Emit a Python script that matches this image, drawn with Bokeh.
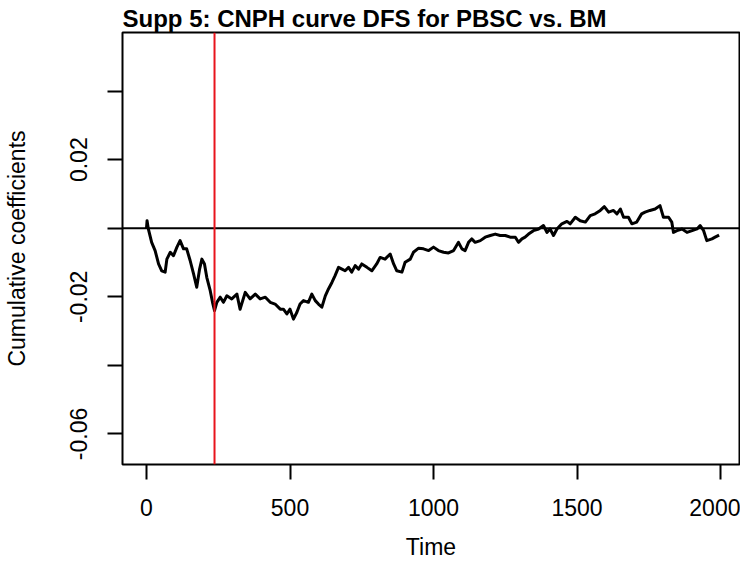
from bokeh.plotting import figure
from bokeh.models import Span, FixedTicker, Range1d
from bokeh.embed import file_html
from bokeh.resources import INLINE

title_text = "Supp 5: CNPH curve DFS for PBSC vs. BM"
x_label = "Time"
y_label = "Cumulative coefficients"
x_ticks = [0, 500, 1000, 1500, 2000]
y_ticks = [-0.06, -0.04, -0.02, 0.0, 0.02, 0.04]
y_tick_labels = {-0.06: "-0.06", -0.04: "", -0.02: "-0.02", 0.0: "", 0.02: "0.02", 0.04: ""}
changepoint = 237
reference_level = 0.0

time = [0, 2, 6, 18, 30, 42, 53, 65, 71, 83, 94, 106, 117, 129, 140, 152, 164, 175, 185, 193,
        202, 210, 222, 230, 237, 245, 257, 268, 280, 297, 315, 326, 344, 361, 379, 396, 414, 431,
        448, 466, 477, 489, 500, 512, 524, 535, 547, 564, 576, 588, 599, 611, 623, 634, 646, 657,
        669, 681, 692, 704, 715, 727, 739, 750, 768, 785, 802, 814, 831, 849, 861, 872, 890, 901,
        919, 930, 948, 965, 983, 1000, 1017, 1035, 1052, 1070, 1087, 1099, 1110, 1122, 1133, 1145,
        1163, 1180, 1198, 1215, 1232, 1250, 1267, 1285, 1296, 1308, 1319, 1331, 1348, 1366, 1383,
        1395, 1406, 1418, 1430, 1447, 1465, 1476, 1494, 1511, 1529, 1546, 1563, 1581, 1595, 1610,
        1627, 1639, 1651, 1662, 1679, 1691, 1708, 1725, 1737, 1754, 1772, 1789, 1801, 1819, 1830,
        1836, 1848, 1866, 1883, 1901, 1918, 1929, 1941, 1952, 1970, 1981, 1995]
coef = [0.0, 0.0022, 0.0, -0.0041, -0.0065, -0.0104, -0.0124, -0.0128, -0.009, -0.007, -0.008,
        -0.0055, -0.0036, -0.006, -0.006, -0.0094, -0.0133, -0.0172, -0.0119, -0.009, -0.0104,
        -0.0143, -0.0182, -0.0216, -0.024, -0.0216, -0.0201, -0.0216, -0.0197, -0.0206, -0.0192,
        -0.0236, -0.0187, -0.0206, -0.0192, -0.0206, -0.0201, -0.0216, -0.0221, -0.0236, -0.0236,
        -0.025, -0.0236, -0.0265, -0.0245, -0.0221, -0.0211, -0.0216, -0.0192, -0.0211, -0.0221,
        -0.023, -0.0197, -0.0177, -0.0158, -0.0138, -0.0114, -0.0119, -0.0124, -0.0114, -0.0128,
        -0.0109, -0.0119, -0.0104, -0.0114, -0.0124, -0.0104, -0.0085, -0.009, -0.0075, -0.0104,
        -0.0124, -0.0128, -0.0099, -0.009, -0.007, -0.0058, -0.006, -0.0065, -0.0055, -0.0065,
        -0.007, -0.0072, -0.0065, -0.0041, -0.006, -0.0065, -0.0041, -0.0031, -0.0041, -0.0036,
        -0.0026, -0.0021, -0.0017, -0.0021, -0.0021, -0.0026, -0.0026, -0.0041, -0.0031, -0.0026,
        -0.0017, -0.0007, -0.0002, 0.0008, -0.0012, -0.0002, -0.0021, -0.0002, 0.0013, 0.002,
        0.0013, 0.0032, 0.0022, 0.0018, 0.0037, 0.0042, 0.0052, 0.0063, 0.0047, 0.0052, 0.0042,
        0.0056, 0.0032, 0.0032, 0.0013, 0.0018, 0.0042, 0.0047, 0.0052, 0.0056, 0.0066, 0.0032,
        0.0032, 0.0018, -0.0012, -0.0007, -0.0002, -0.0012, -0.0007, -0.0002, 0.0008, -0.0007,
        -0.0036, -0.0031, -0.0026, -0.002]

FONT = "Liberation Sans"
FRAME_H = 432
FRAME_W = 617

p = figure(width=734, height=567, output_backend="svg", toolbar_location=None,
           x_range=Range1d(-83.6, 2066), y_range=Range1d(-0.0689, 0.0571),
           frame_width=FRAME_W, frame_height=FRAME_H,
           min_border_left=116, min_border_right=1, min_border_top=32, min_border_bottom=103)
p.background_fill_color = "white"
p.border_fill_color = "white"
p.outline_line_color = "black"
p.outline_line_width = 2
p.xgrid.visible = False
p.ygrid.visible = False

p.title.text = title_text
p.title.text_font = FONT
p.title.text_font_size = "24px"
p.title.text_font_style = "bold"
p.title.text_color = "black"
p.title.align = "left"
p.title.offset = 0
p.title.standoff = 1

for ax in (p.xaxis[0], p.yaxis[0]):
    ax.axis_line_color = None
    ax.major_tick_in = 0
    ax.major_tick_out = 15
    ax.major_tick_line_width = 2
    ax.major_tick_line_color = "black"
    ax.minor_tick_line_color = None
    ax.major_label_text_font = FONT
    ax.major_label_text_font_size = "23px"
    ax.major_label_text_color = "black"
    ax.axis_label_text_font = FONT
    ax.axis_label_text_font_size = "23px"
    ax.axis_label_text_font_style = "normal"
    ax.axis_label_text_color = "black"

p.xaxis[0].ticker = FixedTicker(ticks=x_ticks)
p.xaxis[0].major_label_standoff = 19
p.xaxis[0].axis_label = x_label
p.xaxis[0].axis_label_standoff = 15

p.yaxis[0].ticker = FixedTicker(ticks=y_ticks)
p.yaxis[0].major_label_overrides = y_tick_labels
p.yaxis[0].major_label_orientation = "vertical"
p.yaxis[0].axis_label = y_label
p.yaxis[0].major_label_standoff = 20
p.yaxis[0].axis_label_standoff = 38

p.add_layout(Span(location=reference_level, dimension="width", line_color="black", line_width=2))
p.add_layout(Span(location=changepoint, dimension="height", line_color="#e8141c", line_width=2))

p.line(time, coef, line_color="black", line_width=3, line_join="round")

open("out.html", "w").write(file_html(p, INLINE))
